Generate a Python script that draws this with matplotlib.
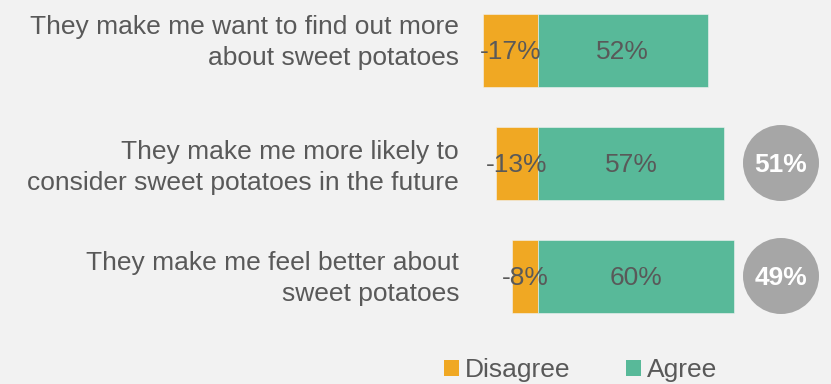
import matplotlib
matplotlib.use("Agg")
import matplotlib.pyplot as plt
from matplotlib.patches import Patch
from matplotlib.transforms import blended_transform_factory, offset_copy

# Data
statements = [
    "They make me want to find out more\nabout sweet potatoes",
    "They make me more likely to\nconsider sweet potatoes in the future",
    "They make me feel better about\nsweet potatoes",
]
disagree = [-17, -13, -8]
agree = [52, 57, 60]
net_scores = [None, 51, 49]
series_names = ["Disagree", "Agree"]

# Styling
BG = "#F2F2F2"
ORANGE = "#F0A823"
GREEN = "#58B999"
GREY = "#A6A6A6"
TEXT = "#595959"
FONT = ["Liberation Sans", "DejaVu Sans"]
plt.rcParams["font.family"] = FONT

W, H, DPI = 831, 384, 100
fig = plt.figure(figsize=(W / DPI, H / DPI), dpi=DPI, facecolor=BG)

# axes spans the bar area on the right; labels are placed to its left
ax = fig.add_axes([470 / W, 0, 361 / W, 1])
ax.set_facecolor(BG)
px_per_pct = 3.26
zero_px = 538 - 470
ax.set_xlim(-zero_px / px_per_pct, (361 - zero_px) / px_per_pct)
row_px = 113
first_px = 50
ax.set_ylim((H - first_px) / row_px, -first_px / row_px)
for s in ax.spines.values():
    s.set_visible(False)
ax.set_xticks([])
ax.set_yticks([])

ypos = list(range(len(statements)))
bar_h = 73 / row_px
ax.barh(ypos, disagree, height=bar_h, color=ORANGE, edgecolor=BG, linewidth=0.4)
ax.barh(ypos, agree, height=bar_h, color=GREEN, edgecolor=BG, linewidth=0.4)

# value labels centered in each segment (nudged so digits sit mid-bar)
val_trans = offset_copy(ax.transData, fig=fig, x=0, y=-1.5, units="points")
for y, d, a in zip(ypos, disagree, agree):
    ax.text(d / 2, y, f"{d}%", transform=val_trans, ha="center", va="center",
            fontsize=19, color=TEXT)
    ax.text(a / 2, y, f"{a}%", transform=val_trans, ha="center", va="center",
            fontsize=19, color=TEXT)

# statement labels, right-aligned to the left of the bars
label_dy = [5.4, -3.3, -1.6]  # points, fine vertical placement for each block
trans = blended_transform_factory(ax.transAxes, ax.transData)
for y, txt, dy in zip(ypos, statements, label_dy):
    t = offset_copy(trans, fig=fig, x=-11 * 72 / DPI, y=dy, units="points")
    ax.text(0, y, txt, transform=t, ha="right", va="center", fontsize=19,
            color=TEXT, linespacing=1.35, multialignment="right")

# net score circles
circle_x = (781 - 538) / px_per_pct
diam_pt = 76 * 72 / DPI
for y, v in zip(ypos, net_scores):
    if v is None:
        continue
    ax.scatter([circle_x], [y], s=diam_pt ** 2, color=GREY, edgecolors="none",
               zorder=3, clip_on=False)
    ax.text(circle_x, y, f"{v}%", transform=val_trans, ha="center", va="center",
            fontsize=19, fontweight="bold", color="white", zorder=4)

# legend
handles = [Patch(facecolor=ORANGE, edgecolor="none"),
           Patch(facecolor=GREEN, edgecolor="none")]
leg = fig.legend(handles, series_names, loc="center left",
                 bbox_to_anchor=(444 / W, 1 - 370 / H), ncol=2, frameon=False,
                 fontsize=19, handlelength=0.55, handleheight=0.55,
                 handletextpad=0.25, columnspacing=2.1, borderpad=0,
                 borderaxespad=0)
for t in leg.get_texts():
    t.set_color(TEXT)

fig.savefig("out.png", dpi=DPI, facecolor=BG)
